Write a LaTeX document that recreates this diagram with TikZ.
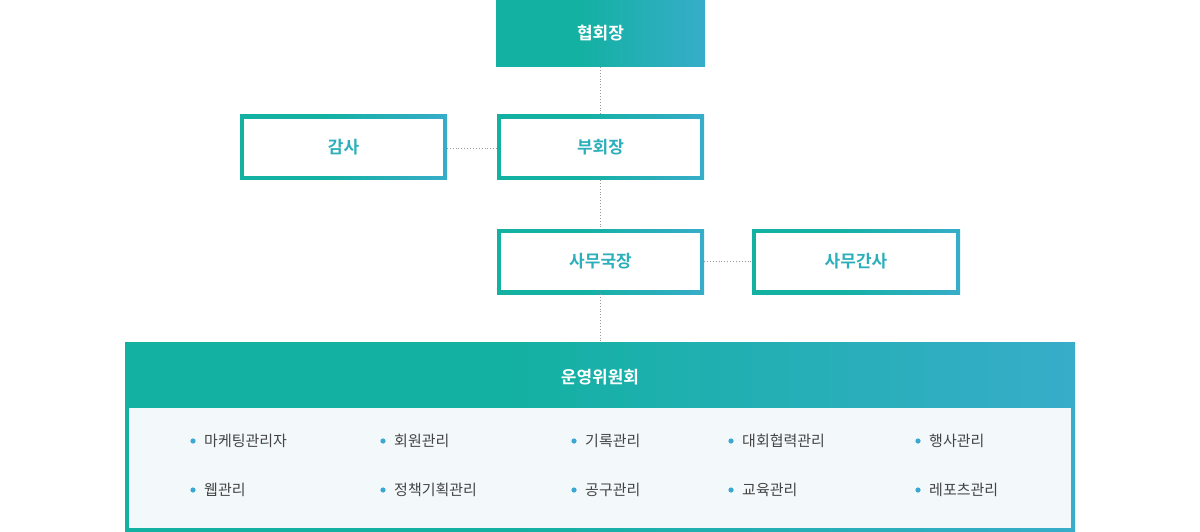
\documentclass[tikz,border=0pt]{standalone}
\usepackage{fontspec}
\setmainfont{Noto Sans CJK KR}
\newfontfamily\kb{Noto Sans CJK KR Bold}
\definecolor{tealc}{HTML}{13B1A2}
\definecolor{bluec}{HTML}{55A9EA}
\definecolor{labc}{HTML}{2BAFBA}
\definecolor{bodyc}{HTML}{F3F9FA}
\definecolor{txtc}{HTML}{444444}
\definecolor{dotc}{HTML}{3AA8D2}
\pgfdeclarehorizontalshading{tb}{100bp}{color(0bp)=(tealc); color(45bp)=(tealc); color(100bp)=(bluec)}
\tikzset{
 lab/.style={font=\kb\fontsize{17}{20}\selectfont},
 conn/.style={draw=gray!80, line width=0.9pt, dotted},
 item/.style={anchor=west, font=\fontsize{15}{18}\selectfont, text=txtc, inner sep=0pt}
}
\newcommand{\obox}[5]{%
 \shade[shading=tb] (#1,#2) rectangle (#3,#4);
 \fill[white] (#1+4,#2+4) rectangle (#3-4,#4-4);
 \node[lab, text=labc] at ({(#1+#3)/2},{(#2+#4)/2}) {#5};}
\newcommand{\bitem}[3]{%
 \fill[dotc] (#1,#2) circle (2.6);
 \node[item] at (#1+11,#2) {#3};}
\begin{document}
\begin{tikzpicture}[x=1pt,y=-1pt]
\useasboundingbox (0,0) rectangle (1200,532);
% top
\shade[shading=tb] (496,0) rectangle (705,67);
\node[lab,text=white] (top) at (600.5,33.5) {협회장};
\path (496,0) coordinate (topA) (705,67) coordinate (topB);
\obox{497}{115}{704}{180}{부회장}
\obox{240}{115}{447}{180}{감사}
\obox{497}{229}{704}{294}{사무국장}
\obox{752}{229}{960}{294}{사무간사}
\coordinate (t1) at (600,67); \coordinate (v1) at (600,115);
\coordinate (v2) at (600,180); \coordinate (s1) at (600,229);
\coordinate (s2) at (600,294); \coordinate (c1) at (600,342);
\coordinate (vl) at (497,148); \coordinate (gr) at (447,148);
\coordinate (sr) at (704,261); \coordinate (gl) at (752,261);
\draw[conn] (t1) -- (v1);
\draw[conn] (v2) -- (s1);
\draw[conn] (s2) -- (c1);
\draw[conn] (vl) -- (gr);
\draw[conn] (sr) -- (gl);
% committee
\shade[shading=tb] (125,342) rectangle (1075,532);
\fill[bodyc] (129,408) rectangle (1071,528);
\node[lab,text=white] (com) at (600,377) {운영위원회};
\bitem{193}{441}{마케팅관리자}
\bitem{383}{441}{회원관리}
\bitem{574}{441}{기록관리}
\bitem{731}{441}{대회협력관리}
\bitem{918}{441}{행사관리}
\bitem{193}{490}{웹관리}
\bitem{383}{490}{정책기획관리}
\bitem{574}{490}{공구관리}
\bitem{731}{490}{교육관리}
\bitem{918}{490}{레포츠관리}
\end{tikzpicture}
\end{document}
